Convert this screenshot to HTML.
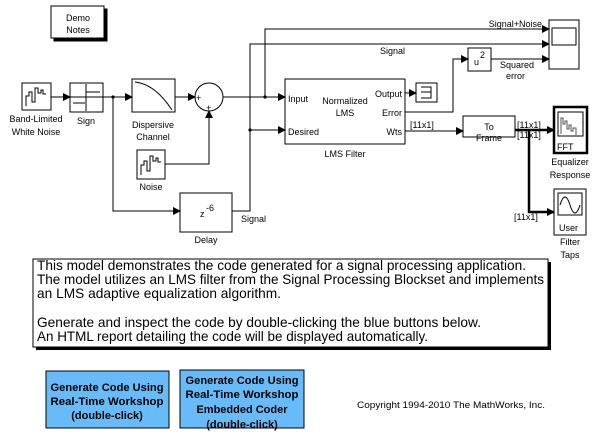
<!DOCTYPE html>
<html><head><style>
body{margin:0;background:#fff;width:600px;height:436px;overflow:hidden;font-family:"Liberation Sans",sans-serif}
svg text{font-family:"Liberation Sans",sans-serif;font-size:9px;fill:#000}
</style></head><body>
<svg width="600" height="436" viewBox="0 0 600 436" xmlns="http://www.w3.org/2000/svg">
<defs>
<marker id="a" markerWidth="8" markerHeight="8" refX="7" refY="4" orient="auto" markerUnits="userSpaceOnUse"><path d="M0,0L8,4L0,8z" fill="#000"/></marker>
</defs>
<g stroke="#000" fill="none" stroke-width="1">
<rect x="54" y="9" width="53" height="32" fill="#000"/>
<rect x="51" y="6" width="53" height="32" fill="#fff"/>
<rect x="22" y="83" width="29" height="27" fill="#fff"/>
<path d="M26,106V96h3v-4h3v10h3V88h3v5h3v-3h2v4h3" />
<rect x="70" y="83" width="33" height="29" fill="#fff"/>
<path d="M86,84V111M73,103h12M86,92h14M70,97h33"/>
<rect x="132" y="79" width="43" height="33" fill="#fff"/>
<path d="M135,82Q155,84 172,110"/>
<circle cx="209" cy="97" r="14" fill="#fff"/>
<rect x="137" y="150" width="28" height="29" fill="#fff"/>
<path d="M141,175V165h3v-4h3v10h3V156h3v5h3v-3h2v4h3"/>
<rect x="180" y="193" width="52" height="39" fill="#fff"/>
<rect x="285" y="79" width="120" height="65" fill="#fff"/>
<rect x="416" y="83" width="21" height="19" fill="#fff"/>
<path d="M421,87h10v11h-10M421,92h10"/>
<rect x="468" y="48" width="23" height="23" fill="#fff"/>
<rect x="549" y="20" width="30" height="49" fill="#fff"/>
<rect x="552" y="28" width="24" height="17"/>
<rect x="463" y="116" width="52" height="21" fill="#fff"/>
<rect x="554" y="107" width="33" height="46" stroke-width="2.5" fill="#fff"/>
<rect x="558" y="112" width="25" height="24"/>
<path d="M561,134V118h2v6h2v-3h2v8h2v-4h2v6h2v-3h3v7" stroke="#555"/>
<rect x="554" y="189" width="32" height="46" fill="#fff"/>
<rect x="558" y="193" width="24" height="22"/>
<path d="M560,205q5,-16 10,0t10,0"/>
<path d="M51,97H70" marker-end="url(#a)"/>
<path d="M103,97H132" marker-end="url(#a)"/>
<path d="M113,97V211H180" marker-end="url(#a)"/>
<path d="M175,97H195" marker-end="url(#a)"/>
<path d="M165,164H209V111" marker-end="url(#a)"/>
<path d="M223,97H285" marker-end="url(#a)"/>
<path d="M265,97V29H549" marker-end="url(#a)"/>
<path d="M232,211H250V44H549" marker-end="url(#a)"/>
<path d="M250,130H285" marker-end="url(#a)"/>
<path d="M405,93H416" marker-end="url(#a)"/>
<path d="M405,112H453V59H468" marker-end="url(#a)"/>
<path d="M491,59H549" marker-end="url(#a)"/>
<path d="M405,131H463" marker-end="url(#a)"/>
<path d="M515,130H554" stroke-width="2.5" marker-end="url(#a)"/>
<path d="M529,130V212H554" stroke-width="2.5" marker-end="url(#a)"/>
</g>
<g fill="#000"><circle cx="113" cy="97" r="1.6"/><circle cx="265" cy="97" r="1.6"/><circle cx="250" cy="130" r="1.6"/></g>
<text x="78" y="21" text-anchor="middle">Demo</text>
<text x="78" y="33" text-anchor="middle">Notes</text>
<text x="36" y="122" text-anchor="middle">Band-Limited</text>
<text x="36" y="135" text-anchor="middle">White Noise</text>
<text x="86" y="124" text-anchor="middle">Sign</text>
<text x="153" y="128" text-anchor="middle">Dispersive</text>
<text x="153" y="140" text-anchor="middle">Channel</text>
<text x="196" y="101" font-size="7">+</text>
<text x="206" y="111" font-size="7">+</text>
<text x="151" y="190" text-anchor="middle">Noise</text>
<text x="200" y="217">z</text>
<text x="206" y="211" font-size="8">-6</text>
<text x="206" y="243" text-anchor="middle">Delay</text>
<text x="241" y="222">Signal</text>
<text x="288" y="102">Input</text>
<text x="288" y="135">Desired</text>
<text x="345" y="104" text-anchor="middle">Normalized</text>
<text x="345" y="116" text-anchor="middle">LMS</text>
<text x="402" y="97" text-anchor="end">Output</text>
<text x="402" y="116" text-anchor="end">Error</text>
<text x="402" y="135" text-anchor="end">Wts</text>
<text x="345" y="157" text-anchor="middle">LMS Filter</text>
<text x="410" y="128">[11x1]</text>
<text x="489" y="130" text-anchor="middle">To</text>
<text x="489" y="141" text-anchor="middle">Frame</text>
<text x="517" y="128">[11x1]</text>
<text x="517" y="138">[11x1]</text>
<text x="514" y="220">[11x1]</text>
<text x="474" y="65">u</text>
<text x="480" y="58" font-size="7">2</text>
<text x="500" y="68">Squared</text>
<text x="506" y="79">error</text>
<text x="542" y="27" text-anchor="end">Signal+Noise</text>
<text x="380" y="54">Signal</text>
<text x="557" y="150">FFT</text>
<text x="570" y="165" text-anchor="middle">Equalizer</text>
<text x="570" y="178" text-anchor="middle">Response</text>
<text x="559" y="231">User</text>
<text x="570" y="245" text-anchor="middle">Filter</text>
<text x="570" y="258" text-anchor="middle">Taps</text>
<rect x="36" y="262" width="515" height="88" fill="#000"/>
<rect x="33" y="259" width="515" height="88" fill="#fff" stroke="#000"/>
<text x="37" y="270" style="font-size:14px" textLength="489" lengthAdjust="spacingAndGlyphs">This model demonstrates the code generated for a signal processing application.</text>
<text x="37" y="284" style="font-size:14px" textLength="507" lengthAdjust="spacingAndGlyphs">The model utilizes an LMS filter from the Signal Processing Blockset and implements</text>
<text x="37" y="298" style="font-size:14px" textLength="244" lengthAdjust="spacingAndGlyphs">an LMS adaptive equalization algorithm.</text>
<text x="37" y="327" style="font-size:14px" textLength="444" lengthAdjust="spacingAndGlyphs">Generate and inspect the code by double-clicking the blue buttons below.</text>
<text x="37" y="341" style="font-size:14px" textLength="391" lengthAdjust="spacingAndGlyphs">An HTML report detailing the code will be displayed automatically.</text>
<rect x="46" y="371" width="123" height="57" fill="#66bbf8" stroke="#000"/>
<rect x="180" y="370" width="124" height="58" fill="#66bbf8" stroke="#000"/>
<text x="107" y="391" text-anchor="middle" style="font-size:11px;font-weight:bold" textLength="113" lengthAdjust="spacingAndGlyphs">Generate Code Using</text>
<text x="107" y="405" text-anchor="middle" style="font-size:11px;font-weight:bold" textLength="113" lengthAdjust="spacingAndGlyphs">Real-Time Workshop</text>
<text x="107" y="419" text-anchor="middle" style="font-size:11px;font-weight:bold">(double-click)</text>
<text x="242" y="384" text-anchor="middle" style="font-size:11px;font-weight:bold" textLength="113" lengthAdjust="spacingAndGlyphs">Generate Code Using</text>
<text x="242" y="398" text-anchor="middle" style="font-size:11px;font-weight:bold" textLength="113" lengthAdjust="spacingAndGlyphs">Real-Time Workshop</text>
<text x="242" y="413" text-anchor="middle" style="font-size:11px;font-weight:bold">Embedded Coder</text>
<text x="242" y="428" text-anchor="middle" style="font-size:11px;font-weight:bold">(double-click)</text>
<text x="357" y="408" style="font-size:9px" textLength="188" lengthAdjust="spacingAndGlyphs">Copyright 1994-2010 The MathWorks, Inc.</text>
</svg>
</body></html>
